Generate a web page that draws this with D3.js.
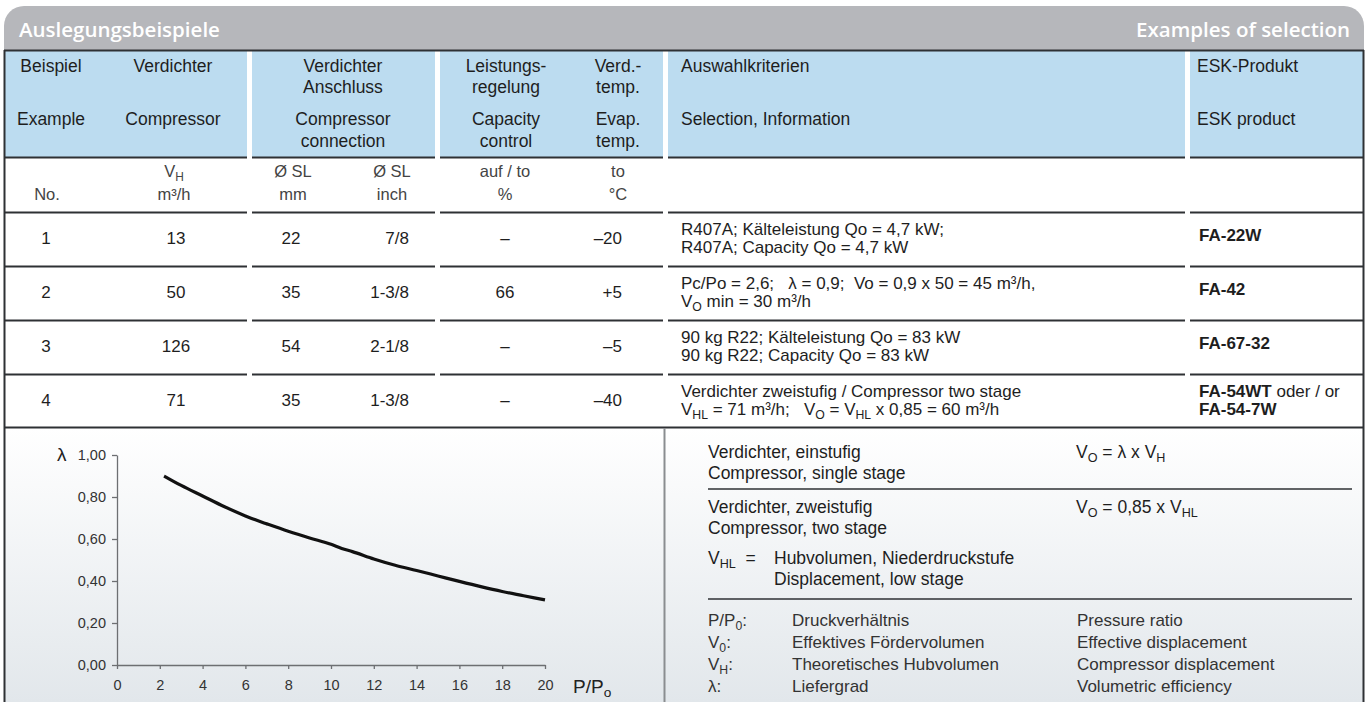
<!DOCTYPE html>
<html>
<head>
<meta charset="utf-8">
<script src="https://cdn.jsdelivr.net/npm/d3@7"></script>
<style>
body { margin: 0; background: #fff; }
svg text { font-family: "Liberation Sans", Arial, sans-serif; white-space: pre; }
svg text.title { font-family: "Open Sans", sans-serif; font-weight: 600; }
</style>
</head>
<body>
<svg id="chart" width="1371" height="702"></svg>
<script>
// ---- table values ----
const exampleNo = [1, 2, 3, 4];
const displacement = [13, 50, 126, 71];
const connMm = [22, 35, 54, 35];
const connInch = ["7/8", "1-3/8", "2-1/8", "1-3/8"];
const capacityCtrl = ["–", "66", "–", "–"];
const evapTemp = ["–20", "+5", "–5", "–40"];
const criteria = [
    ["R407A; Kälteleistung Qo = 4,7 kW;", "R407A; Capacity Qo = 4,7 kW"],
    ["Pc/Po = 2,6;   λ = 0,9;  Vo = 0,9 x 50 = 45 m³/h,", "V_{O} min = 30 m³/h"],
    ["90 kg R22; Kälteleistung Qo = 83 kW", "90 kg R22; Capacity Qo = 83 kW"],
    ["Verdichter zweistufig / Compressor two stage", "V_{HL} = 71 m³/h;   V_{O} = V_{HL} x 0,85 = 60 m³/h"]
];
const products = [
    ["**FA-22W**"],
    ["**FA-42**"],
    ["**FA-67-32**"],
    ["**FA-54WT** oder / or", "**FA-54-7W**"]
];

// ---- lambda curve ----
const pressureRatio = [2.2, 3, 4, 5, 6, 6.5, 7, 8, 9, 10, 10.5, 11, 12, 13, 14, 15, 16, 17, 18, 19, 20];
const lambdaValues = [0.90, 0.855, 0.805, 0.755, 0.71, 0.69, 0.672, 0.637, 0.605, 0.575, 0.555, 0.54, 0.505, 0.475, 0.45, 0.424, 0.398, 0.373, 0.35, 0.33, 0.31];
const xTicks = [0, 2, 4, 6, 8, 10, 12, 14, 16, 18, 20];
const yTicks = [0, 0.2, 0.4, 0.6, 0.8, 1.0];

// ---- legend texts ----
const stageNotes = [
    { de: "Verdichter, einstufig", en: "Compressor, single stage", formula: "V_{O} = λ x V_{H}" },
    { de: "Verdichter, zweistufig", en: "Compressor, two stage", formula: "V_{O} = 0,85 x V_{HL}" }
];
const glossarySymbols = ["P/P_{0}:", "V_{0}:", "V_{H}:", "λ:"];
const glossaryDe = ["Druckverhältnis", "Effektives Fördervolumen", "Theoretisches Hubvolumen", "Liefergrad"];
const glossaryEn = ["Pressure ratio", "Effective displacement", "Compressor displacement", "Volumetric efficiency"];

const svg = d3.select("#chart");
const dark = "#2e3134";

// writes text with _{sub} and **bold** parts
function rich(g, x, y, str, size, color) {
    const t = g.append("text").attr("x", x).attr("y", y)
        .attr("font-size", size).attr("fill", color || "#1e1e1e");
    const parts = str.split(/(_\{[^}]*\}|\*\*[^*]+\*\*)/).filter(p => p.length);
    let down = false;
    parts.forEach(p => {
        const ts = t.append("tspan");
        if (p.startsWith("_{")) {
            ts.text(p.slice(2, -1)).attr("font-size", size * 0.72).attr("dy", down ? 0 : 4);
            down = true;
        } else {
            if (down) ts.attr("dy", -4);
            down = false;
            if (p.startsWith("**")) ts.text(p.slice(2, -2)).attr("font-weight", "bold");
            else ts.text(p);
        }
    });
    return t;
}

// ---- background gradient for bottom panel ----
const defs = svg.append("defs");
const grad = defs.append("linearGradient").attr("id", "panelGrad")
    .attr("x1", 0).attr("y1", 0).attr("x2", 0).attr("y2", 1);
grad.append("stop").attr("offset", "0%").attr("stop-color", "#ffffff");
grad.append("stop").attr("offset", "100%").attr("stop-color", "#e2e7eb");

svg.append("rect").attr("x", 4).attr("y", 428).attr("width", 1360).attr("height", 274)
    .attr("fill", "url(#panelGrad)");

// ---- title bar ----
svg.append("path")
    .attr("d", "M4,50 V26 A20,20 0 0 1 24,6 H1344 A20,20 0 0 1 1364,26 V50 Z")
    .attr("fill", "#b6b7bb");
svg.append("text").attr("class", "title").attr("x", 19).attr("y", 37).text("Auslegungsbeispiele")
    .attr("font-size", 20.5).attr("fill", "#fff");
svg.append("text").attr("class", "title").attr("x", 1350).attr("y", 37).text("Examples of selection")
    .attr("text-anchor", "end")
    .attr("font-size", 20.5).attr("fill", "#fff");

// ---- header ----
const groups = [[4, 247], [252, 435], [440, 663], [668, 1185], [1190, 1364]];
svg.selectAll(".hdr").data(groups).enter().append("rect")
    .attr("x", d => d[0]).attr("y", 51).attr("width", d => d[1] - d[0]).attr("height", 106)
    .attr("fill", "#bcdcf0");
svg.append("line").attr("x1", 4).attr("x2", 1364).attr("y1", 50.5).attr("y2", 50.5)
    .attr("stroke", dark).attr("stroke-width", 2);

const headerCells = [
    { x: 51, a: "middle", lines: ["Beispiel", "", "Example", ""] },
    { x: 173, a: "middle", lines: ["Verdichter", "", "Compressor", ""] },
    { x: 343, a: "middle", lines: ["Verdichter", "Anschluss", "Compressor", "connection"] },
    { x: 506, a: "middle", lines: ["Leistungs-", "regelung", "Capacity", "control"] },
    { x: 618, a: "middle", lines: ["Verd.-", "temp.", "Evap.", "temp."] },
    { x: 681, a: "start", lines: ["Auswahlkriterien", "", "Selection, Information", ""] },
    { x: 1197, a: "start", lines: ["ESK-Produkt", "", "ESK product", ""] }
];
const headerBase = [72, 93, 125, 147];
headerCells.forEach(c => {
    c.lines.forEach((l, i) => {
        if (!l) return;
        svg.append("text").attr("x", c.x).attr("y", headerBase[i]).attr("text-anchor", c.a)
            .attr("font-size", 17.5).attr("fill", "#1e1e1e").text(l);
    });
});

// units row
const unitCells = [
    { x: 47, top: "", bottom: "No." },
    { x: 174, top: "V_{H}", bottom: "m³/h" },
    { x: 293, top: "Ø SL", bottom: "mm" },
    { x: 392, top: "Ø SL", bottom: "inch" },
    { x: 505, top: "auf / to", bottom: "%" },
    { x: 618, top: "to", bottom: "°C" }
];
unitCells.forEach(c => {
    if (c.top) rich(svg, c.x, 177, c.top, 16.5, "#444").attr("text-anchor", "middle");
    rich(svg, c.x, 200, c.bottom, 16.5, "#444").attr("text-anchor", "middle");
});

// ---- rows ----
const row = d3.scaleBand().domain(exampleNo).range([212, 428]);
const sepY = [157.5].concat(exampleNo.map(d => row(d) + 0.5));
sepY.forEach(yy => {
    groups.forEach(g => {
        svg.append("line").attr("x1", g[0]).attr("x2", g[1]).attr("y1", yy).attr("y2", yy)
            .attr("stroke", dark).attr("stroke-width", 2);
    });
});
svg.append("line").attr("x1", 4).attr("x2", 1364).attr("y1", 427.5).attr("y2", 427.5)
    .attr("stroke", dark).attr("stroke-width", 2);

const rowsG = svg.append("g").attr("font-size", 17).attr("fill", "#1e1e1e");
const mid = d => row(d) + row.bandwidth() / 2;
function colText(values, x, anchor) {
    rowsG.selectAll(null).data(exampleNo).enter().append("text")
        .attr("x", x).attr("y", d => mid(d) + 5).attr("text-anchor", anchor)
        .text((d, i) => values[i]);
}
colText(exampleNo, 46, "middle");
colText(displacement, 176, "middle");
colText(connMm, 291, "middle");
colText(connInch, 409, "end");
colText(capacityCtrl, 505, "middle");
colText(evapTemp, 622, "end");

exampleNo.forEach((d, i) => {
    criteria[i].forEach((l, j) => rich(rowsG, 681, mid(d) - 4 + j * 18, l, 17));
    const p = products[i];
    if (p.length === 1) rich(rowsG, 1199, mid(d) + 2, p[0], 17);
    else p.forEach((l, j) => rich(rowsG, 1199, mid(d) - 4 + j * 18, l, 17));
});

// ---- borders ----
svg.append("line").attr("x1", 4.5).attr("x2", 4.5).attr("y1", 50).attr("y2", 702)
    .attr("stroke", dark).attr("stroke-width", 2);
svg.append("line").attr("x1", 1363.5).attr("x2", 1363.5).attr("y1", 50).attr("y2", 702)
    .attr("stroke", dark).attr("stroke-width", 2);
svg.append("line").attr("x1", 664.5).attr("x2", 664.5).attr("y1", 428).attr("y2", 702)
    .attr("stroke", "#8a8d90").attr("stroke-width", 2);

// ---- lambda chart ----
const x = d3.scaleLinear().domain([0, 20]).range([117, 545]);
const y = d3.scaleLinear().domain([0, 1]).range([665, 455]);
const comma = d => d3.format(".2f")(d).replace(".", ",");

const yAxis = svg.append("g").attr("transform", "translate(117,0)")
    .call(d3.axisLeft(y).tickValues(yTicks).tickFormat(comma).tickSize(5).tickSizeOuter(0).tickPadding(6));
const xAxis = svg.append("g").attr("transform", "translate(0,665)")
    .call(d3.axisBottom(x).tickValues(xTicks).tickSize(4).tickSizeOuter(0).tickPadding(11));
[xAxis, yAxis].forEach(a => {
    a.select(".domain").attr("stroke", "#6d6f72").attr("stroke-width", 1.3);
    a.selectAll(".tick line").attr("stroke", "#6d6f72").attr("stroke-width", 1.3);
    a.selectAll("text").attr("font-size", 14.5).attr("fill", "#333");
});

svg.append("text").attr("x", 57).attr("y", 461).attr("font-size", 19).attr("fill", "#222").text("λ");
rich(svg, 573, 693, "P/P_{o}", 19, "#222");

const line = d3.line().x(d => x(d[0])).y(d => y(d[1])).curve(d3.curveMonotoneX);
svg.append("path")
    .datum(pressureRatio.map((p, i) => [p, lambdaValues[i]]))
    .attr("d", line).attr("fill", "none").attr("stroke", "#111").attr("stroke-width", 3.2);

// ---- legend panel ----
const leg = svg.append("g");
stageNotes.forEach((s, i) => {
    const y0 = 458 + i * 55;
    rich(leg, 708, y0, s.de, 17.5);
    rich(leg, 708, y0 + 21, s.en, 17.5);
    rich(leg, 1076, y0, s.formula, 17.5);
});
leg.append("line").attr("x1", 708).attr("x2", 1352).attr("y1", 489).attr("y2", 489)
    .attr("stroke", dark).attr("stroke-width", 1.5);
rich(leg, 708, 564, "V_{HL}  =", 17.5);
rich(leg, 774, 564, "Hubvolumen, Niederdruckstufe", 17.5);
rich(leg, 774, 585, "Displacement, low stage", 17.5);
leg.append("line").attr("x1", 708).attr("x2", 1352).attr("y1", 599).attr("y2", 599)
    .attr("stroke", dark).attr("stroke-width", 1.5);

glossarySymbols.forEach((s, i) => {
    const yy = 626 + i * 22;
    rich(leg, 708, yy, s, 17, "#333");
    rich(leg, 792, yy, glossaryDe[i], 17, "#333");
    rich(leg, 1077, yy, glossaryEn[i], 17, "#333");
});
</script>
</body>
</html>
